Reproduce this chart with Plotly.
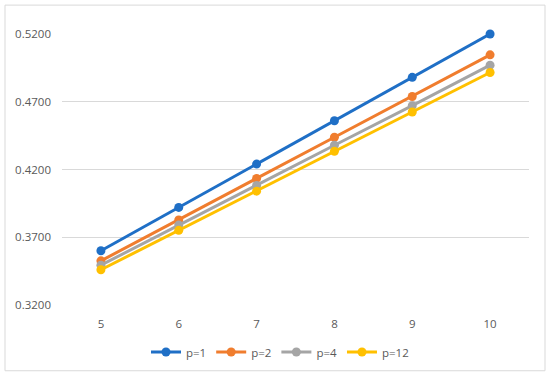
import plotly.graph_objects as go

categories = ["5", "6", "7", "8", "9", "10"]
p1 = [0.3600, 0.3920, 0.4240, 0.4560, 0.4880, 0.5200]
p2 = [0.3526, 0.3827, 0.4134, 0.4438, 0.4739, 0.5046]
p4 = [0.3494, 0.3790, 0.4082, 0.4379, 0.4671, 0.4970]
p12 = [0.3460, 0.3751, 0.4040, 0.4335, 0.4624, 0.4916]
series_names = ["p=1", "p=2", "p=4", "p=12"]
series_colors = ["#1F6FC6", "#F07D2E", "#A5A5A5", "#FFC000"]
y_ticks = [0.32, 0.37, 0.42, 0.47, 0.52]

fig = go.Figure()
for name, vals, col in zip(series_names, [p1, p2, p4, p12], series_colors):
    fig.add_trace(go.Scatter(
        x=categories, y=vals, name=name, mode="lines+markers",
        line=dict(color=col, width=3),
        marker=dict(color=col, size=9),
        cliponaxis=False,
    ))

W, H = 550, 377
L, R, T, B = 62, 21, 34, 71
pw, ph = W - L - R, H - T - B

def px(x):
    return (x - L) / pw

def py(y):
    return (H - B - y) / ph

fig.update_layout(
    width=W, height=H,
    margin=dict(l=L, r=R, t=T, b=B),
    paper_bgcolor="white", plot_bgcolor="white",
    font=dict(family="Open Sans, Noto Sans, sans-serif", size=11.5, color="#595959"),
    xaxis=dict(type="category", range=[-0.5, 5.5], showgrid=False, showline=False,
               zeroline=False, ticks="", ticklabelstandoff=10,
               tickfont=dict(size=11.5, color="#595959")),
    yaxis=dict(range=[0.32, 0.52], tickvals=y_ticks,
               ticktext=[f"{v:.4f}" for v in y_ticks],
               showgrid=True, gridcolor="#D9D9D9", gridwidth=1,
               zeroline=False, showline=False, ticks="", ticklabelstandoff=10,
               tickfont=dict(size=11.5, color="#595959")),
    legend=dict(orientation="h", x=px(280), xanchor="center", y=py(352), yanchor="middle",
                font=dict(size=11.5, color="#595959"), itemwidth=30,
                traceorder="normal", bgcolor="rgba(0,0,0,0)"),
    showlegend=True,
)
fig.add_shape(type="rect", xref="paper", yref="paper",
              x0=px(5), x1=px(545), y0=py(372), y1=py(5),
              line=dict(color="#D9D9D9", width=1), fillcolor="rgba(0,0,0,0)",
              layer="below")

fig.write_html("out.html", config={"displayModeBar": False},
               post_script="document.body.style.margin='0';document.body.style.overflow='hidden';")
